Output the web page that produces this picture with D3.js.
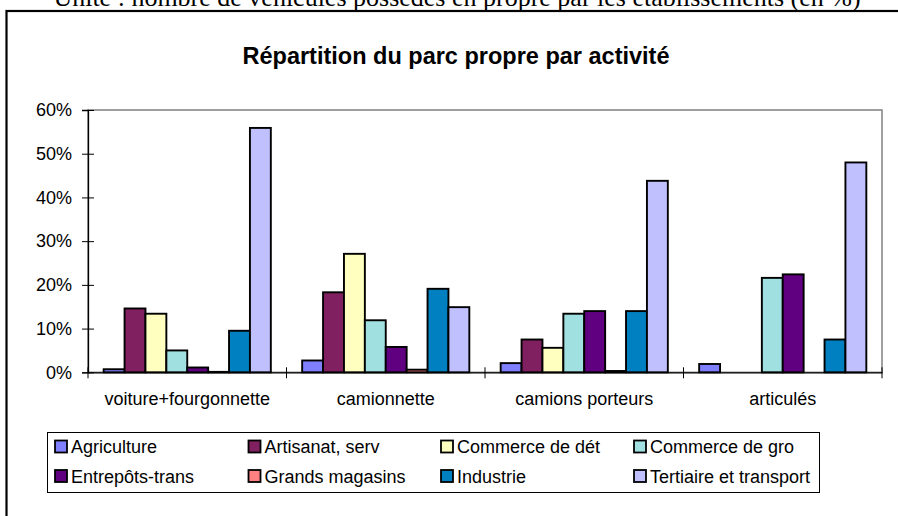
<!DOCTYPE html>
<html>
<head>
<meta charset="utf-8">
<script src="https://cdn.jsdelivr.net/npm/d3@7"></script>
<style>
  body { margin: 0; background: #fff; }
  svg { display: block; }
  text { font-family: "Liberation Sans", Arial, sans-serif; fill: #000; }
</style>
</head>
<body>
<div id="root"></div>
<script>
var categories = ["voiture+fourgonnette", "camionnette", "camions porteurs", "articulés"];
var series = ["Agriculture", "Artisanat, serv", "Commerce de dét", "Commerce de gro",
              "Entrepôts-trans", "Grands magasins", "Industrie", "Tertiaire et transport"];
var colors = ["#8080ff", "#802060", "#ffffc0", "#a0e0e0", "#600080", "#ff8080", "#0080c0", "#c0c0ff"];

// one array per series, values in % for each category (null = no bar)
var agriculture = [0.7, 2.7, 2.1, 1.9];
var artisanat = [14.6, 18.3, 7.5, null];
var commerceDet = [13.4, 27.1, 5.6, null];
var commerceGro = [5.0, 11.9, 13.4, 21.6];
var entrepots = [1.1, 5.8, 14.0, 22.4];
var grandsMagasins = [0.1, 0.6, 0.3, null];
var industrie = [9.5, 19.1, 14.0, 7.5];
var tertiaire = [55.9, 14.9, 43.8, 48.0];
var values = [agriculture, artisanat, commerceDet, commerceGro, entrepots, grandsMagasins, industrie, tertiaire];

var yTicks = [0, 10, 20, 30, 40, 50, 60];

function draw(selector) {
    var width = 898, height = 516;
    var plotLeft = 88, plotRight = 882, plotTop = 110, plotBottom = 372.3;

    var svg = d3.select(selector).append("svg")
        .attr("width", width)
        .attr("height", height);

    // caption above the frame (cut off by the page edge)
    svg.append("text")
        .attr("x", 457)
        .attr("y", 6)
        .attr("text-anchor", "middle")
        .style("font-family", "'Liberation Serif', 'Times New Roman', serif")
        .style("font-size", "26px")
        .text("Unité : nombre de véhicules possédés en propre par les établissements (en %)");

    // chart frame
    svg.append("rect")
        .attr("x", 6.5)
        .attr("y", 11)
        .attr("width", 900)
        .attr("height", 520)
        .attr("fill", "none")
        .attr("stroke", "#000")
        .attr("stroke-width", 2.2);

    svg.append("text")
        .attr("x", 456)
        .attr("y", 64)
        .attr("text-anchor", "middle")
        .style("font-size", "23.5px")
        .style("font-weight", "bold")
        .text("Répartition du parc propre par activité");

    var x0 = d3.scaleBand()
        .domain(categories)
        .range([plotLeft, plotRight])
        .paddingInner(0)
        .paddingOuter(0);

    var x1 = d3.scaleBand()
        .domain(series)
        .range([0, x0.bandwidth()])
        .paddingInner(0)
        .paddingOuter(0.75);

    var y = d3.scaleLinear()
        .domain([0, 60])
        .range([plotBottom, plotTop]);

    // plot area border (grey top and right)
    svg.append("rect")
        .attr("x", plotLeft)
        .attr("y", plotTop)
        .attr("width", plotRight - plotLeft)
        .attr("height", plotBottom - plotTop)
        .attr("fill", "none")
        .attr("stroke", "#808080")
        .attr("stroke-width", 1.5);

    var groups = svg.append("g")
        .attr("class", "bars")
        .selectAll("g")
        .data(categories)
        .enter()
        .append("g")
        .attr("transform", function(d) { return "translate(" + x0(d) + ",0)"; });

    groups.selectAll("rect")
        .data(function(d, ci) {
            return series.map(function(s, si) {
                return {series: s, value: values[si][ci], color: colors[si]};
            }).filter(function(e) { return e.value !== null; });
        })
        .enter()
        .append("rect")
        .attr("x", function(d) { return x1(d.series); })
        .attr("y", function(d) { return y(d.value); })
        .attr("width", x1.bandwidth())
        .attr("height", function(d) { return y(0) - y(d.value); })
        .attr("fill", function(d) { return d.color; })
        .attr("stroke", "#000")
        .attr("stroke-width", 1.9);

    // y axis
    var yAxis = svg.append("g")
        .attr("transform", "translate(" + plotLeft + ",0)")
        .call(d3.axisLeft(y)
              .tickValues(yTicks)
              .tickSize(6)
              .tickPadding(10)
              .tickFormat(function(d) { return d + "%"; }));
    yAxis.select(".domain").attr("stroke", "#000").attr("stroke-width", 1.3);
    yAxis.selectAll(".tick line").attr("x2", -6).attr("x1", 6).attr("stroke", "#000");
    yAxis.selectAll(".tick text")
        .style("font-size", "18px")
        .style("font-family", "'Liberation Sans', Arial, sans-serif");

    // x axis, cross ticks on category boundaries
    var xAxis = svg.append("g")
        .attr("transform", "translate(0," + plotBottom + ")")
        .call(d3.axisBottom(x0).tickSize(0).tickPadding(20));
    xAxis.select(".domain").attr("stroke", "#000").attr("stroke-width", 1.3);
    xAxis.selectAll(".tick text")
        .style("font-size", "18px")
        .style("font-family", "'Liberation Sans', Arial, sans-serif");

    var bounds = categories.map(function(c) { return x0(c); }).concat([plotRight]);
    xAxis.selectAll(".bound")
        .data(bounds)
        .enter()
        .append("line")
        .attr("class", "bound")
        .attr("x1", function(d) { return d; })
        .attr("x2", function(d) { return d; })
        .attr("y1", -5)
        .attr("y2", 6)
        .attr("stroke", "#000");

    // legend
    var legend = svg.append("g").attr("class", "legend");
    legend.append("rect")
        .attr("x", 47.5)
        .attr("y", 432.5)
        .attr("width", 772)
        .attr("height", 60)
        .attr("fill", "#fff")
        .attr("stroke", "#000");

    var colX = [54, 247.5, 440, 633];
    var rowY = [447, 476.5];

    var items = legend.selectAll(".item")
        .data(series)
        .enter()
        .append("g")
        .attr("class", "item")
        .attr("transform", function(d, i) {
            return "translate(" + colX[i % 4] + "," + rowY[Math.floor(i / 4)] + ")";
        });

    items.append("rect")
        .attr("x", 1)
        .attr("y", -6.5)
        .attr("width", 12)
        .attr("height", 12)
        .attr("fill", function(d, i) { return colors[i]; })
        .attr("stroke", "#000")
        .attr("stroke-width", 1.8);

    items.append("text")
        .attr("x", 17)
        .attr("y", 0)
        .attr("dy", "0.35em")
        .style("font-size", "18px")
        .text(function(d) { return d; });
}

draw("#root");
</script>
</body>
</html>
